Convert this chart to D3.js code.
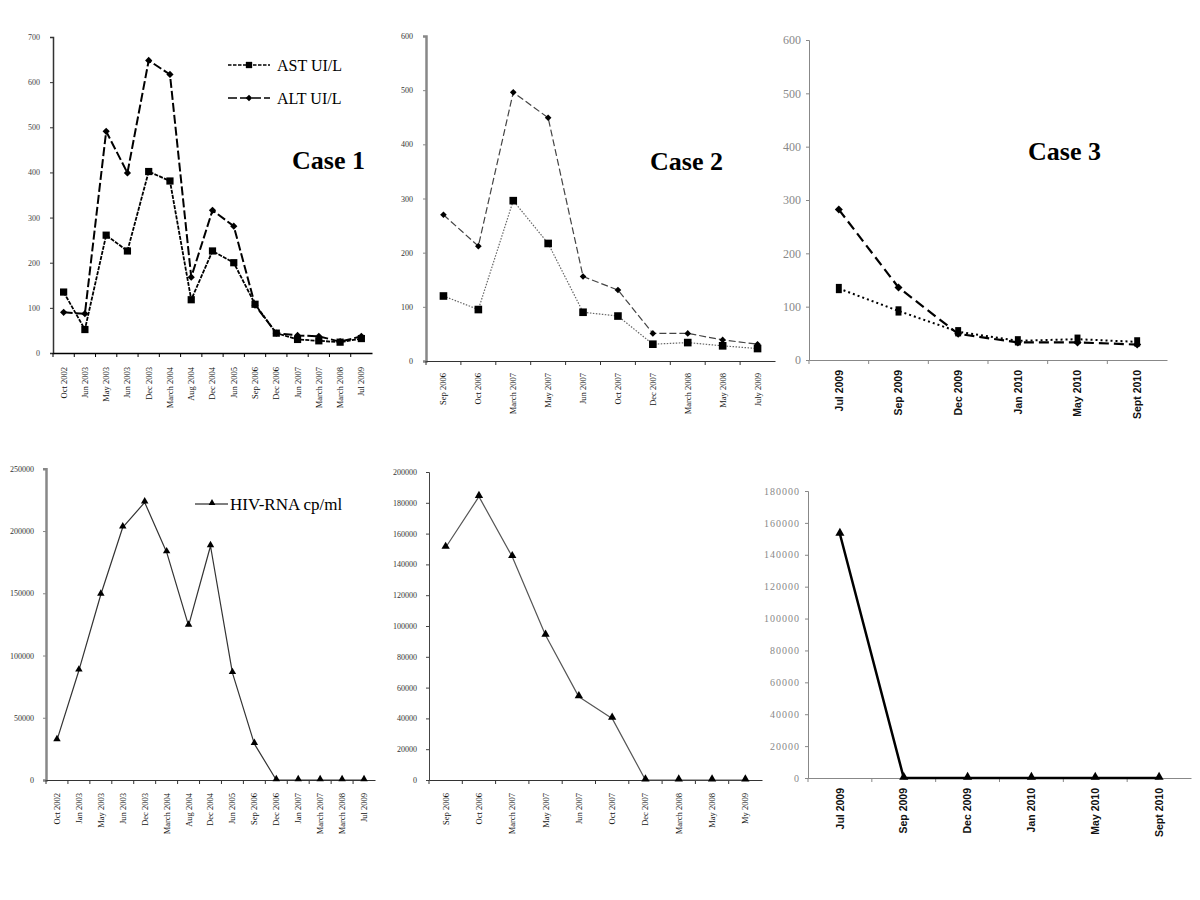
<!DOCTYPE html>
<html>
<head>
<meta charset="utf-8">
<script src="https://cdn.jsdelivr.net/npm/d3@7"></script>
<style>
  html, body { margin: 0; padding: 0; background: #fff; }
  svg { display: block; }
</style>
</head>
<body>
<svg id="chart" width="1200" height="900"></svg>
<script>
// ---------------- DATA ----------------
const case1Dates = ["Oct 2002", "Jun 2003", "May 2003", "Jun 2003", "Dec 2003", "March 2004", "Aug 2004", "Dec 2004", "Jun 2005", "Sep 2006", "Dec 2006", "Jun 2007", "March 2007", "March 2008", "Jul 2009"];
const case1AST = [135, 52, 261, 226, 402, 381, 118, 226, 200, 108, 44, 30, 27, 24, 32];
const case1ALT = [90, 87, 491, 399, 648, 617, 168, 316, 281, 106, 44, 39, 37, 25, 37];

const case2Dates = ["Sep 2006", "Oct 2006", "March 2007", "May 2007", "Jun 2007", "Oct 2007", "Dec 2007", "March 2008", "May 2008", "July 2009"];
const case2AST = [120, 95, 296, 217, 90, 83, 31, 34, 28, 23];
const case2ALT = [270, 212, 496, 449, 156, 131, 51, 51, 39, 31];

const case3Dates = ["Jul 2009", "Sep 2009", "Dec 2009", "Jan 2010", "May 2010", "Sept 2010"];
const case3AST = [134, 92, 53, 36, 39, 34];
const case3ALT = [282, 136, 49, 33, 33, 29];

const case1HivDates = ["Oct 2002", "Jan 2003", "May 2003", "Jun 2003", "Dec 2003", "March 2004", "Aug 2004", "Dec 2004", "Jun 2005", "Sep 2006", "Dec 2006", "Jan 2007", "March 2007", "March 2008", "Jul 2009"];
const case1HIV = [32000, 88000, 149000, 203000, 223000, 183000, 124000, 188000, 86000, 29000, 0, 0, 0, 0, 0];

const case2HivDates = ["Sep 2006", "Oct 2006", "March 2007", "May 2007", "Jun 2007", "Oct 2007", "Dec 2007", "March 2008", "May 2008", "My 2009"];
const case2HIV = [151000, 184000, 145000, 94000, 54000, 40000, 0, 0, 0, 0];

const case3HivDates = ["Jul 2009", "Sep 2009", "Dec 2009", "Jan 2010", "May 2010", "Sept 2010"];
const case3HIV = [153000, 0, 0, 0, 0, 0];

const liverTicks1 = [0, 100, 200, 300, 400, 500, 600, 700];
const liverTicks2 = [0, 100, 200, 300, 400, 500, 600];
const liverTicks3 = [0, 100, 200, 300, 400, 500, 600];
const hivTicks1 = [0, 50000, 100000, 150000, 200000, 250000];
const hivTicks2 = [0, 20000, 40000, 60000, 80000, 100000, 120000, 140000, 160000, 180000, 200000];
const hivTicks3 = [0, 20000, 40000, 60000, 80000, 100000, 120000, 140000, 160000, 180000];

const caseTitles = ["Case 1", "Case 2", "Case 3"];
const liverLegend = ["AST UI/L", "ALT UI/L"];
const hivLegend = ["HIV-RNA cp/ml"];

// ---------------- DRAWING ----------------
const svg = d3.select("#chart");
const SERIF = "'Liberation Serif', 'Times New Roman', serif";
const SANS = "'Liberation Sans', Arial, sans-serif";

function panel(opt) {
  const g = svg.append("g");
  const x = d3.scaleBand().domain(d3.range(opt.labels.length)).range(opt.xRange).paddingInner(0).paddingOuter(0);
  const y = d3.scaleLinear().domain(opt.yDomain).range(opt.yRange);
  const cx = i => x(i) + x.bandwidth() / 2;

  // y axis
  const ya = g.append("g").attr("transform", `translate(${opt.xRange[0]},0)`)
    .call(d3.axisLeft(y).tickValues(opt.yTicks).tickFormat(d3.format("d")).tickSize(3).tickPadding(opt.yPad));
  ya.select(".domain").attr("stroke", opt.yAxisColor).attr("stroke-width", opt.yAxisWidth);
  ya.selectAll(".tick line").attr("stroke", opt.yAxisColor);
  ya.selectAll("text").attr("font-family", opt.yFont).attr("font-size", opt.yFontSize)
    .attr("fill", opt.yTextColor).attr("letter-spacing", opt.yLetter || 0);

  // x axis
  const xa = g.append("g").attr("transform", `translate(0,${opt.yRange[0]})`)
    .call(d3.axisBottom(x).tickFormat(i => opt.labels[i]).tickSizeInner(4).tickSizeOuter(0));
  xa.select(".domain").attr("stroke", opt.xAxisColor).attr("stroke-width", opt.xAxisWidth);
  xa.selectAll(".tick line").attr("x1", -x.bandwidth() / 2).attr("x2", -x.bandwidth() / 2).attr("stroke", opt.xAxisColor);
  xa.selectAll("text")
    .attr("transform", "rotate(-90)")
    .attr("text-anchor", "end")
    .attr("x", -opt.xLabOff).attr("y", 0).attr("dy", "0.35em")
    .attr("font-family", opt.xFont).attr("font-size", opt.xFontSize)
    .attr("font-weight", opt.xBold ? "bold" : "normal").attr("fill", "#111");

  // series
  opt.series.forEach(s => {
    const line = d3.line().x((d, i) => cx(i)).y(d => y(d));
    g.append("path").datum(s.values).attr("d", line)
      .attr("fill", "none").attr("stroke", s.color).attr("stroke-width", s.width)
      .attr("stroke-dasharray", s.dash || null).attr("stroke-linejoin", "round");
    g.selectAll(null).data(s.values).enter().append("path")
      .attr("d", d3.symbol().type(s.symbol === "triangle" ? d3.symbolTriangle : d3.symbolSquare).size(s.size)())
      .attr("transform", (d, i) => `translate(${cx(i)},${y(d) + (s.symbol === "triangle" ? -1 : 0)})` + (s.symbol === "diamond" ? " rotate(45)" : "") + (s.symbol === "tallsquare" ? " scale(0.8,1.25)" : ""))
      .attr("fill", "#000");
  });
  return g;
}

// Case 1 liver
panel({
  labels: case1Dates, xRange: [53, 372], yDomain: [0, 700], yRange: [353, 37], yTicks: liverTicks1,
  yPad: 10, yAxisColor: "#333", yAxisWidth: 1.5, yFont: SERIF, yFontSize: 8, yTextColor: "#444",
  xAxisColor: "#000", xAxisWidth: 1.5, xLabOff: 14, xFont: SERIF, xFontSize: 8.5,
  series: [
    { values: case1ALT, color: "#000", width: 2, dash: "9,3", symbol: "diamond", size: 26 },
    { values: case1AST, color: "#000", width: 1.8, dash: "4,1.2", symbol: "square", size: 52 }
  ]
});
// Case 2 liver
panel({
  labels: case2Dates, xRange: [426, 775], yDomain: [0, 600], yRange: [361, 36], yTicks: liverTicks2,
  yPad: 10, yAxisColor: "#888", yAxisWidth: 2.5, yFont: SERIF, yFontSize: 8, yTextColor: "#333",
  xAxisColor: "#333", xAxisWidth: 1, xLabOff: 12, xFont: SERIF, xFontSize: 8.5,
  series: [
    { values: case2ALT, color: "#444", width: 1.2, dash: "7,3", symbol: "diamond", size: 22 },
    { values: case2AST, color: "#666", width: 1.2, dash: "1.5,1.5", symbol: "square", size: 58 }
  ]
});
// Case 3 liver
panel({
  labels: case3Dates, xRange: [809, 1167], yDomain: [0, 600], yRange: [360, 40], yTicks: liverTicks3,
  yPad: 5, yAxisColor: "#888", yAxisWidth: 1, yFont: SERIF, yFontSize: 12, yTextColor: "#888",
  xAxisColor: "#888", xAxisWidth: 1, xLabOff: 10, xFont: SANS, xFontSize: 10.5, xBold: true,
  series: [
    { values: case3ALT, color: "#000", width: 2.2, dash: "10,5", symbol: "diamond", size: 32 },
    { values: case3AST, color: "#000", width: 2, dash: "2,3", symbol: "tallsquare", size: 55 }
  ]
});
// Case 1 HIV
panel({
  labels: case1HivDates, xRange: [46, 375], yDomain: [0, 250000], yRange: [780, 468.8], yTicks: hivTicks1,
  yPad: 9, yAxisColor: "#888", yAxisWidth: 2.5, yFont: SERIF, yFontSize: 8, yTextColor: "#333",
  xAxisColor: "#333", xAxisWidth: 1, xLabOff: 13, xFont: SERIF, xFontSize: 8.5,
  series: [
    { values: case1HIV, color: "#333", width: 1.2, symbol: "triangle", size: 24 }
  ]
});
// Case 2 HIV
panel({
  labels: case2HivDates, xRange: [429, 762], yDomain: [0, 200000], yRange: [780, 472], yTicks: hivTicks2,
  yPad: 9, yAxisColor: "#444", yAxisWidth: 1, yFont: SERIF, yFontSize: 8, yTextColor: "#333",
  xAxisColor: "#333", xAxisWidth: 1, xLabOff: 13, xFont: SERIF, xFontSize: 8.5,
  series: [
    { values: case2HIV, color: "#555", width: 1.2, symbol: "triangle", size: 30 }
  ]
});
// Case 3 HIV
panel({
  labels: case3HivDates, xRange: [808, 1191], yDomain: [0, 180000], yRange: [778, 491], yTicks: hivTicks3,
  yPad: 5, yAxisColor: "#888", yAxisWidth: 1, yFont: SERIF, yFontSize: 10, yTextColor: "#888", yLetter: 1,
  xAxisColor: "#888", xAxisWidth: 1, xLabOff: 10, xFont: SANS, xFontSize: 10.5, xBold: true,
  series: [
    { values: case3HIV, color: "#000", width: 2.5, symbol: "triangle", size: 36 }
  ]
});

// Case titles
const titlePos = [[292, 169], [650, 170], [1028, 160]];
caseTitles.forEach((t, i) => {
  svg.append("text").attr("x", titlePos[i][0]).attr("y", titlePos[i][1])
    .attr("font-family", SERIF).attr("font-size", 26).attr("font-weight", "bold").attr("fill", "#000").text(t);
});

// Liver legend (Case 1)
const legY = [65, 98];
const legDash = ["3.5,1.5", "9,3"];
const legSym = ["square", "diamond"];
liverLegend.forEach((t, i) => {
  const lg = svg.append("g");
  lg.append("line").attr("x1", 228).attr("x2", 270).attr("y1", legY[i]).attr("y2", legY[i])
    .attr("stroke", "#000").attr("stroke-width", 1.6).attr("stroke-dasharray", legDash[i]);
  lg.append("path").attr("d", d3.symbol().type(d3.symbolSquare).size(legSym[i] === "square" ? 40 : 22)())
    .attr("transform", `translate(249,${legY[i]})` + (legSym[i] === "diamond" ? " rotate(45)" : ""))
    .attr("fill", "#000");
  lg.append("text").attr("x", 277).attr("y", legY[i] + 5.5)
    .attr("font-family", SERIF).attr("font-size", 16).attr("fill", "#000").text(t);
});

// HIV legend (Case 1)
hivLegend.forEach(t => {
  const lg = svg.append("g");
  lg.append("line").attr("x1", 195).attr("x2", 228).attr("y1", 504).attr("y2", 504)
    .attr("stroke", "#000").attr("stroke-width", 1.2);
  lg.append("path").attr("d", d3.symbol().type(d3.symbolTriangle).size(20)())
    .attr("transform", "translate(212,503)").attr("fill", "#000");
  lg.append("text").attr("x", 230).attr("y", 510)
    .attr("font-family", SERIF).attr("font-size", 17).attr("fill", "#000").text(t);
});
</script>
</body>
</html>
